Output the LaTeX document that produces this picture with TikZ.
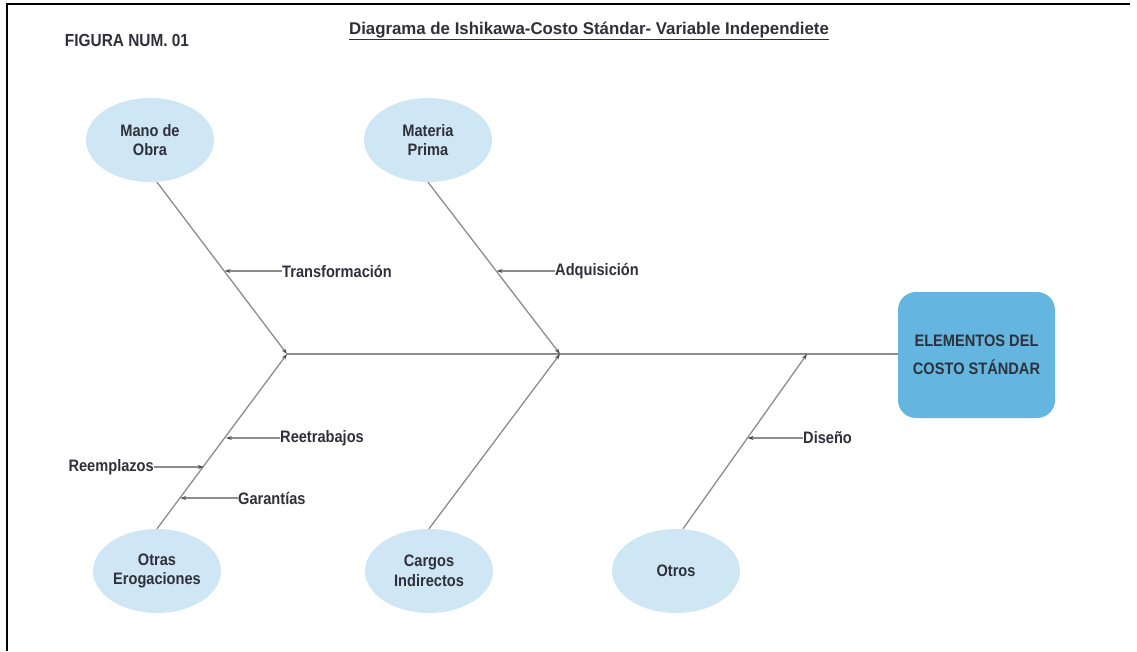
\documentclass[tikz,border=0pt]{standalone}
\usepackage{fontspec}
\setmainfont{Liberation Sans}[FakeStretch=0.88]
\newfontfamily\titlefont{Liberation Sans}[FakeStretch=0.99]
\usetikzlibrary{shapes.geometric,arrows.meta,calc}
\definecolor{txt}{HTML}{30303A}
\definecolor{bonec}{HTML}{8C8C8C}
\definecolor{elfill}{HTML}{CFE7F5}
\definecolor{boxfill}{HTML}{64B6E0}
\begin{document}
\begin{tikzpicture}[x=1pt,y=-1pt,
  every node/.style={text=txt,font=\fontsize{16.6}{19.5}\selectfont\bfseries},
  cause/.style={ellipse,fill=elfill,minimum width=128pt,minimum height=84pt,inner sep=0pt,align=center},
  effect/.style={rectangle,rounded corners=18pt,fill=boxfill,minimum width=157pt,minimum height=126pt,align=center,inner sep=0pt},
  bone/.style={draw=bonec,line width=1.3pt,-{Stealth[length=6pt,width=4pt,color=black!70]}},
  spine/.style={draw=bonec,line width=1.3pt},
  sub/.style={draw=bonec,line width=1.3pt,-{Stealth[length=6pt,width=4pt,color=black!70]}},
  lbl/.style={inner sep=0pt}]
\useasboundingbox (0,0) rectangle (1137,651);
\draw[black,line width=2pt] (1130,4) -- (7,4) -- (7,651);
% titles
\node[lbl,font=\fontsize{17.5}{20}\selectfont\bfseries] (fig) at (127,40) {FIGURA NUM. 01};
\node[lbl,font=\titlefont\fontsize{17}{20}\selectfont\bfseries] (title) at (589,31) {\underline{Diagrama de Ishikawa-Costo Stándar- Variable Independiete}};
% causes
\node[cause] (mo) at (150,140) {Mano de\\Obra};
\node[cause] (mp) at (428,140) {Materia\\Prima};
\node[cause] (oe) at (157,571) {Otras\\Erogaciones};
\node[cause] (cg) at (429,571) {Cargos\\Indirectos};
\node[cause] (ot) at (676,571) {Otros};
\node[effect] (res) at (976.5,355) {ELEMENTOS DEL\\[8pt]COSTO STÁNDAR};
% junctions
\coordinate (j1) at (287,354);
\coordinate (j2) at (560,354);
\coordinate (j3) at (807,354);
% spine
\draw[spine] (j1) -- (res.west |- j1);
% bones
\draw[bone] ([xshift=7pt]mo.south) -- (j1);
\draw[bone] (mp.south) -- (j2);
\draw[bone] (oe.north) -- (j1);
\draw[bone] (cg.north) -- (j2);
\draw[bone] ([xshift=7pt]ot.north) -- (j3);
% sub causes
\node[lbl,anchor=west] (tr) at (282,271) {Transformación};
\coordinate (ptr) at ($([xshift=7pt]mo.south)!0.52!(j1)$);
\draw[sub] (tr.west) -- (tr.west -| ptr);
\node[lbl,anchor=west] (ad) at (555,271) {Adquisición};
\coordinate (pad) at ($(mp.south)!0.52!(j2)$);
\draw[sub] (ad.west) -- (ad.west -| pad);
\node[lbl,anchor=west] (re) at (280,438) {Reetrabajos};
\coordinate (pre) at ($(j1)!0.47!(oe.north)$);
\draw[sub] (re.west) -- (re.west -| pre);
\node[lbl,anchor=east] (rm) at (154,467) {Reemplazos};
\coordinate (prm) at ($(j1)!0.64!(oe.north)$);
\draw[sub] (rm.east) -- (rm.east -| prm);
\node[lbl,anchor=west] (ga) at (238,498) {Garantías};
\coordinate (pga) at ($(j1)!0.82!(oe.north)$);
\draw[sub] (ga.west) -- (ga.west -| pga);
\node[lbl,anchor=west] (di) at (803,438) {Diseño};
\coordinate (pdi) at ($(j3)!0.48!([xshift=7pt]ot.north)$);
\draw[sub] (di.west) -- (di.west -| pdi);
\end{tikzpicture}
\end{document}
